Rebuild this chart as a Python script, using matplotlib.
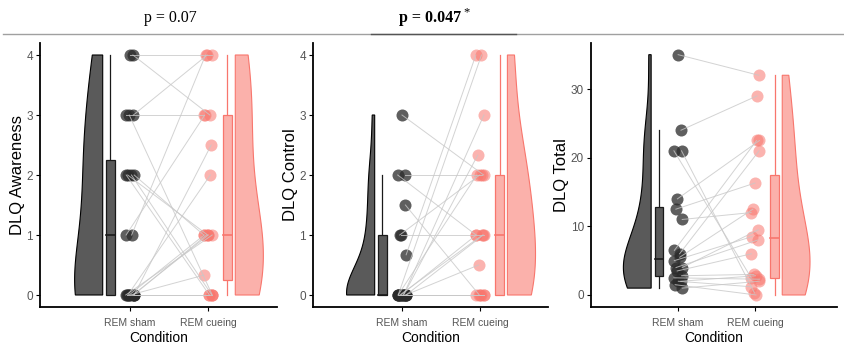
import numpy as np
import matplotlib
matplotlib.use("Agg")
import matplotlib.pyplot as plt
from matplotlib.patches import Rectangle, Polygon

# Daten (Paare: sham -> cueing, gleiche Reihenfolge)
conditions = ["REM sham", "REM cueing"]

awareness_sham = [4, 4, 3, 3, 3, 2, 2, 2, 2, 1, 1, 0, 0, 0, 0, 0, 0, 0, 0, 0]
awareness_cue = [4, 3, 3, 4, 0, 1, 1, 0, 0, 4, 3, 2.5, 2, 1, 1, 1, 1, 0.33, 0, 0]

control_sham = [3, 2, 2, 1.5, 1, 1, 0.67, 0, 0, 0, 0, 0, 0, 0, 0, 0, 0, 0, 0, 0]
control_cue = [2, 2, 1, 0, 1, 2, 4, 4, 3, 2.33, 2, 1, 1, 1, 0.5, 0, 0, 0, 0, 0]

total_sham = [35, 24, 21, 21, 14, 12.5, 11, 6.5, 6, 5.5, 5, 4, 4, 3.5, 2.8, 2.5, 2, 2, 1.5, 1]
total_cue = [32, 29, 2.5, 0.3, 22.5, 16.3, 12, 22.5, 21, 12.5, 8.5, 9.5, 8, 6, 3, 2.3, 2.8, 1.2, 0, 2]

ylabels = ["DLQ Awareness", "DLQ Control", "DLQ Total"]
p_texts = ["p = 0.07", "p = 0.047"]

SHAM_DARK = "#5a5a5a"
CUE = "#F8766D"
CUE_LIGHT = "#FBB1AB"


def kde(vals, grid, adjust=1.25):
    vals = np.asarray(vals, float)
    n = len(vals)
    iqr = np.subtract(*np.percentile(vals, [75, 25]))
    bw = 0.9 * min(vals.std(ddof=1), iqr / 1.34) * n ** -0.2
    if bw <= 0:
        bw = 0.9 * vals.std(ddof=1) * n ** -0.2
    bw *= adjust
    d = np.exp(-0.5 * ((grid[:, None] - vals[None, :]) / bw) ** 2).sum(axis=1)
    return d / d.max()


def half_violin(ax, vals, x0, side, face, edge, width=0.36):
    grid = np.linspace(min(vals), max(vals), 200)
    d = kde(vals, grid) * width
    xs = x0 + side * d
    pts = np.column_stack([np.r_[x0, xs, x0], np.r_[grid[0], grid, grid[-1]]])
    ax.add_patch(Polygon(pts, closed=True, facecolor=face, edgecolor=edge, lw=0.8, zorder=2))


def boxplot(ax, vals, xc, face, edge, w=0.11):
    vals = np.asarray(vals, float)
    q1, med, q3 = np.percentile(vals, [25, 50, 75])
    iqr = q3 - q1
    lo = vals[vals >= q1 - 1.5 * iqr].min()
    hi = vals[vals <= q3 + 1.5 * iqr].max()
    ax.plot([xc, xc], [lo, q1], color=edge, lw=0.9, zorder=2)
    ax.plot([xc, xc], [q3, hi], color=edge, lw=0.9, zorder=2)
    ax.add_patch(Rectangle((xc - w / 2, q1), w, q3 - q1, facecolor=face,
                           edgecolor=edge, lw=0.9, zorder=3))
    ax.plot([xc - w / 2, xc + w / 2], [med, med], color=edge, lw=1.2, zorder=4)


def panel(ax, sham, cue, ylabel, xlim, ylim, yticks):
    n = len(sham)
    jit = 0.055 * np.sin(np.arange(n) * 2.4)
    jit2 = 0.055 * np.sin(np.arange(n) * 1.7 + 1.0)
    xs = 1 + jit
    xc = 2 + jit2

    half_violin(ax, sham, 0.65, -1, SHAM_DARK, "black")
    half_violin(ax, cue, 2.35, 1, CUE_LIGHT, CUE)
    boxplot(ax, sham, 0.75, SHAM_DARK, "#1a1a1a")
    boxplot(ax, cue, 2.25, CUE_LIGHT, CUE)

    ax.scatter(xs, sham, s=75, color="#2a2a2a", alpha=0.75, lw=0, zorder=5)
    ax.scatter(xc, cue, s=75, color=CUE, alpha=0.55, lw=0, zorder=5)
    for a, b, ya, yb in zip(xs, xc, sham, cue):
        ax.plot([a, b], [ya, yb], color="#c8c8c8", lw=0.7, alpha=0.8, zorder=6)

    ax.set_xlim(*xlim)
    ax.set_ylim(*ylim)
    ax.set_xticks([1, 2])
    ax.set_xticklabels(conditions, fontsize=7.5, color="#555555")
    ax.set_yticks(yticks)
    ax.set_yticklabels([str(t) for t in yticks], fontsize=8.5, color="#555555")
    ax.set_xlabel("Condition", fontsize=10, labelpad=2)
    ax.set_ylabel(ylabel, fontsize=12, labelpad=1)
    for s in ["top", "right"]:
        ax.spines[s].set_visible(False)
    for s in ["left", "bottom"]:
        ax.spines[s].set_linewidth(1.3)
    ax.tick_params(axis="x", length=3, width=0.8, pad=5)
    ax.tick_params(axis="y", length=3, width=0.8, pad=2)


plt.rcParams["font.family"] = ["Liberation Sans", "DejaVu Sans"]
fig = plt.figure(figsize=(8.45, 3.48), dpi=100)

ax1 = fig.add_axes([40 / 845, 41 / 348, 237 / 845, 264 / 348])
ax2 = fig.add_axes([313 / 845, 41 / 348, 235 / 845, 264 / 348])
ax3 = fig.add_axes([591 / 845, 41 / 348, 246 / 845, 264 / 348])

panel(ax1, awareness_sham, awareness_cue, ylabels[0], (-0.154, 2.885), (-0.2, 4.2), [0, 1, 2, 3, 4])
panel(ax2, control_sham, control_cue, ylabels[1], (-0.14, 2.87), (-0.2, 4.2), [0, 1, 2, 3, 4])
panel(ax3, total_sham, total_cue, ylabels[2], (-0.13, 3.06), (-1.75, 36.7), [0, 10, 20, 30])

# p-Werte oben
fig.text(170 / 845, 1 - 18 / 348, p_texts[0], fontsize=11.5, family="Liberation Serif",
         ha="center", va="center")
fig.text(430 / 845, 1 - 18 / 348, p_texts[1], fontsize=11.5, family="Liberation Serif",
         weight="bold", ha="center", va="center")
fig.text(467 / 845, 1 - 12 / 348, "*", fontsize=9, family="Liberation Serif",
         ha="center", va="center")

# Linie unter den p-Werten
fig.add_artist(plt.Line2D([3 / 845, 1], [1 - 34 / 348] * 2, color="#a0a0a0", lw=1))
fig.add_artist(plt.Line2D([371 / 845, 516 / 845], [1 - 34 / 348] * 2, color="#555555", lw=1))

fig.savefig("out.png", dpi=100)
